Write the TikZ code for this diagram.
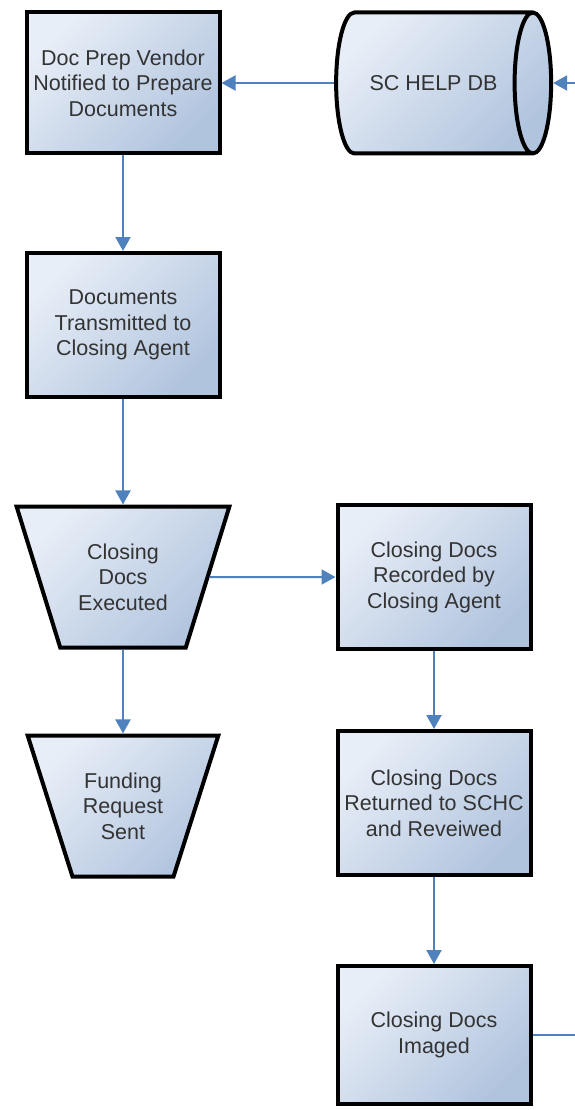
\documentclass[tikz,border=0pt]{standalone}
\usepackage{fontspec}
\setmainfont{Liberation Sans}
\usetikzlibrary{shapes.geometric,arrows.meta}
\definecolor{flow}{HTML}{4F81BD}
\definecolor{boxlight}{HTML}{E8EEF7}
\definecolor{boxdark}{HTML}{B1C4DE}
\definecolor{ink}{HTML}{333333}
\begin{document}
\begin{tikzpicture}[x=1pt,y=-1pt,
  every node/.style={font=\fontsize{21.5}{25.5}\selectfont, text=ink, align=center},
  shaded/.style={draw=black, line width=4pt, top color=boxlight, bottom color=boxdark, shading angle=45},
  procbox/.style={shaded, rectangle, minimum width=193pt, minimum height=144pt, inner sep=0pt},
  manualop/.style={shaded, trapezium, shape border rotate=180, trapezium stretches=true,
    trapezium left angle=65, trapezium right angle=65, minimum height=141pt, inner sep=0pt},
  store/.style={shaded, cylinder, shape aspect=2.4, minimum width=141pt, minimum height=215pt, inner sep=0pt},
  flowline/.style={draw=flow, line width=2pt},
  flowarrow/.style={flowline, -{Triangle[length=14pt,width=15pt]}}
]
\useasboundingbox (0,0) rectangle (574,1110);

% process steps
\node[procbox, minimum height=141pt] (prep) at (123,83) {Doc Prep Vendor\\Notified to Prepare\\Documents};
\node[store] (db) at (433.5,83) {SC HELP DB};
\node[procbox] (sent) at (123,325) {Documents\\Transmitted to\\Closing Agent};
\node[manualop, minimum width=213pt] (exec) at (123,577) {Closing\\Docs\\Executed};
\node[procbox] (rec) at (434,577) {Closing Docs\\Recorded by\\Closing Agent};
\node[manualop, minimum width=191pt, trapezium left angle=62, trapezium right angle=62] (fund) at (123,806) {Funding\\Request\\Sent};
\node[procbox] (ret) at (434,803) {Closing Docs\\Returned to SCHC\\and Reveiwed};
\node[procbox, minimum height=138pt] (img) at (434,1035) {Closing Docs\\Imaged};

% off-page ends
\coordinate (inR) at (590,83);
\coordinate (outR) at (590,1035);

% connectors
\draw[flowarrow] (inR) -- (db.east);
\draw[flowarrow] (db.west) -- (prep.east);
\draw[flowarrow] (prep.south) -- (sent.north);
\draw[flowarrow] (sent.south) -- (exec.north);
\draw[flowarrow] (exec.east) -- (rec.west);
\draw[flowarrow] (exec.south) -- (fund.north);
\draw[flowarrow] (rec.south) -- (ret.north);
\draw[flowarrow] (ret.south) -- (img.north);
\draw[flowline] (img.east) -- (outR);
\end{tikzpicture}
\end{document}
